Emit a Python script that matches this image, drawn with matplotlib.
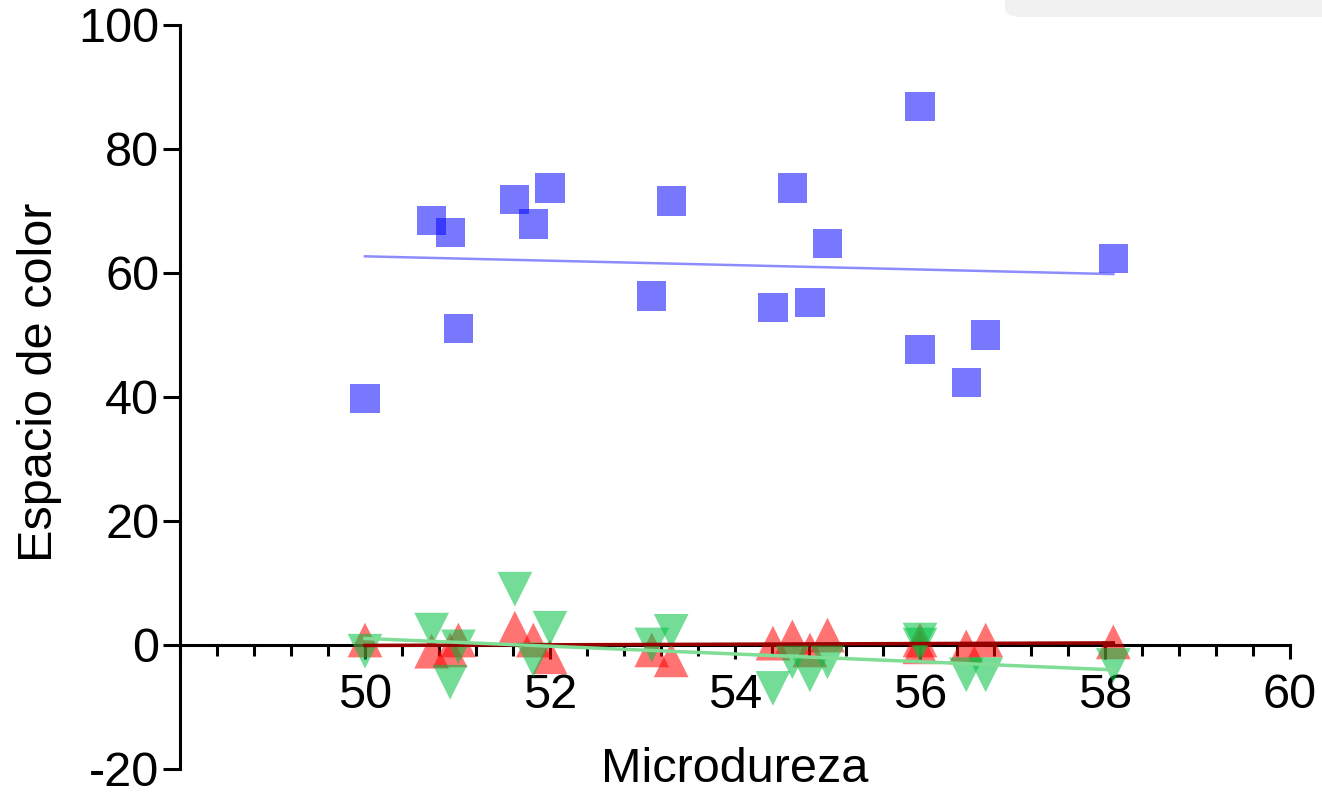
import numpy as np
import matplotlib
matplotlib.use("Agg")
import matplotlib.pyplot as plt
from matplotlib.patches import FancyBboxPatch
from matplotlib.ticker import MultipleLocator

plt.rcParams['font.family'] = ['Liberation Sans', 'DejaVu Sans']

# Data
microdureza = [50.0, 50.72, 50.92, 51.01, 51.62, 51.82, 52.0, 53.1, 53.31,
               54.41, 54.62, 54.81, 55.0, 56.0, 56.0, 56.5, 56.71, 58.09]
serie_azul = [39.7, 68.5, 66.5, 51.1, 71.9, 67.9, 73.7, 56.3, 71.6,
              54.5, 73.7, 55.3, 64.8, 86.8, 47.7, 42.4, 50.0, 62.4]
serie_roja = [0.8, -1.0, -0.8, 0.8, 2.7, 0.8, -1.9, -0.8, -2.4,
              0.3, 1.3, -0.8, 1.6, 0.8, -0.3, -0.3, 0.8, 0.5]
serie_verde = [-1.0, 2.4, -6.0, -0.3, 9.0, -2.4, 2.7, 0.0, 2.2,
               -7.0, -2.7, -4.8, -2.7, 0.8, 0.0, -4.8, -4.8, -3.3]

x_ticks = [50, 52, 54, 56, 58, 60]
y_ticks = [-20, 0, 20, 40, 60, 80, 100]

W, H = 1322, 795
fig = plt.figure(figsize=(W / 100, H / 100), dpi=100)
ax = fig.add_axes([180 / W, 1 - 769 / H, (1290 - 180) / W, (769 - 25) / H])

x = np.array(microdureza)
series = [
    (serie_azul, 's', (0, 0, 1, 0.53), '#8c8cff', 1.8),
    (serie_roja, '^', (1, 0, 0, 0.55), '#990000', 2.5),
    (serie_verde, 'v', (0, 0.76, 0.26, 0.55), '#80dd96', 2.5),
]
for vals, mk, col, lcol, lw in series:
    y = np.array(vals)
    ax.scatter(x, y, marker=mk, s=(21 if mk == 's' else 25) ** 2, color=col,
               edgecolors='none', zorder=3)
    m, b = np.polyfit(x, y, 1)
    xs = np.array([x.min(), x.max()])
    ax.plot(xs, m * xs + b, color=lcol, lw=lw, zorder=4 if mk != 's' else 2)

ax.set_xlim(48, 60)
ax.set_ylim(-20, 100)
ax.spines['top'].set_visible(False)
ax.spines['right'].set_visible(False)
ax.spines['bottom'].set_position(('data', 0))
ax.spines['bottom'].set_linewidth(2.2)
ax.spines['left'].set_linewidth(2.2)
ax.spines['bottom'].set_zorder(2.5)

ax.set_xticks(x_ticks)
ax.set_xticklabels([str(t) for t in x_ticks])
ax.xaxis.set_minor_locator(MultipleLocator(0.4))
ax.set_yticks(y_ticks)
ax.set_yticklabels([str(t) for t in y_ticks])
ax.tick_params(axis='x', which='major', length=10, width=2.2, direction='out',
               labelsize=35, pad=10)
ax.tick_params(axis='x', which='minor', length=8, width=2.2, direction='out')
ax.tick_params(axis='y', which='major', length=12, width=2.2, direction='out',
               labelsize=35, pad=3)
ax.patch.set_visible(False)

fig.text(735 / W, 1 - 770 / H, 'Microdureza', fontsize=35, ha='center', va='center')
fig.text(40 / W, 1 - 382 / H, 'Espacio de color', fontsize=35, ha='center',
         va='center', rotation=90)

# light gray rounded tab at top right of the screenshot
tab = FancyBboxPatch((1005 / W, 1 - 17 / H), 400 / W, 40 / H,
                     boxstyle='round,pad=0,rounding_size=0.012',
                     transform=fig.transFigure, facecolor='#f1f1f1',
                     edgecolor='none', zorder=0)
fig.patches.append(tab)

fig.savefig('out.png', dpi=100)
